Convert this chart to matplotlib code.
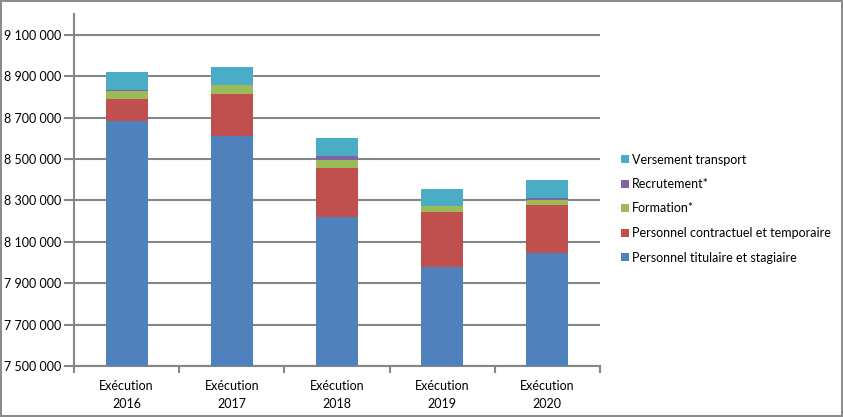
import matplotlib.pyplot as plt
from matplotlib.ticker import FuncFormatter

plt.rcParams['font.family'] = ['Lato', 'DejaVu Sans']

years = ["Exécution\n2016", "Exécution\n2017", "Exécution\n2018", "Exécution\n2019", "Exécution\n2020"]
titulaire = [8681000, 8613000, 8220000, 7978000, 8046000]
contractuel = [110000, 203000, 237000, 266000, 232000]
formation = [38000, 40000, 39000, 29000, 24000]
recrutement = [3000, 3000, 19000, 1500, 10000]
versement = [86000, 83000, 87000, 82000, 87000]

series = [
    ("Personnel titulaire et stagiaire", titulaire, "#4F81BD"),
    ("Personnel contractuel et temporaire", contractuel, "#C0504D"),
    ("Formation*", formation, "#9BBB59"),
    ("Recrutement*", recrutement, "#8064A2"),
    ("Versement transport", versement, "#4BACC6"),
]

fig = plt.figure(figsize=(8.43, 4.17), dpi=100, edgecolor="#8c8c8c", linewidth=1.5)
ax = fig.add_axes([74 / 843, 51 / 417, 526 / 843, 352 / 417])

x = list(range(len(years)))
bottom = [0] * len(years)
for name, vals, col in series:
    ax.bar(x, vals, width=0.4, bottom=bottom, color=col, label=name, zorder=3)
    bottom = [a + v for a, v in zip(bottom, vals)]

ax.set_ylim(7500000, 9200000)
ax.set_xlim(-0.5, len(years) - 0.5)
ax.set_yticks(range(7500000, 9100001, 200000))
ax.yaxis.set_major_formatter(FuncFormatter(lambda v, p: f"{int(v):,}".replace(",", " ")))
ax.yaxis.grid(True, color="#868686", linewidth=1.5, zorder=0)

ax.set_xticks(x)
ax.set_xticklabels(years, fontsize=9, linespacing=1.6)
ax.set_xticks([i - 0.5 for i in range(len(years) + 1)], minor=True)
ax.tick_params(axis="x", which="major", length=0, pad=10)
ax.tick_params(axis="x", which="minor", length=5, width=1.5, color="#868686")
ax.tick_params(axis="y", length=7, width=1.5, color="#868686", labelsize=9, pad=2)

for s in ["top", "right"]:
    ax.spines[s].set_visible(False)
for s in ["left", "bottom"]:
    ax.spines[s].set_color("#868686")
    ax.spines[s].set_linewidth(1.5)

handles, labels = ax.get_legend_handles_labels()
fig.legend(handles[::-1], labels[::-1], loc="center left", bbox_to_anchor=(610 / 843, 0.50),
           frameon=False, fontsize=9, handlelength=0.6, handleheight=0.6,
           handletextpad=0.25, labelspacing=1.0)

fig.savefig("out.png", dpi=100)
